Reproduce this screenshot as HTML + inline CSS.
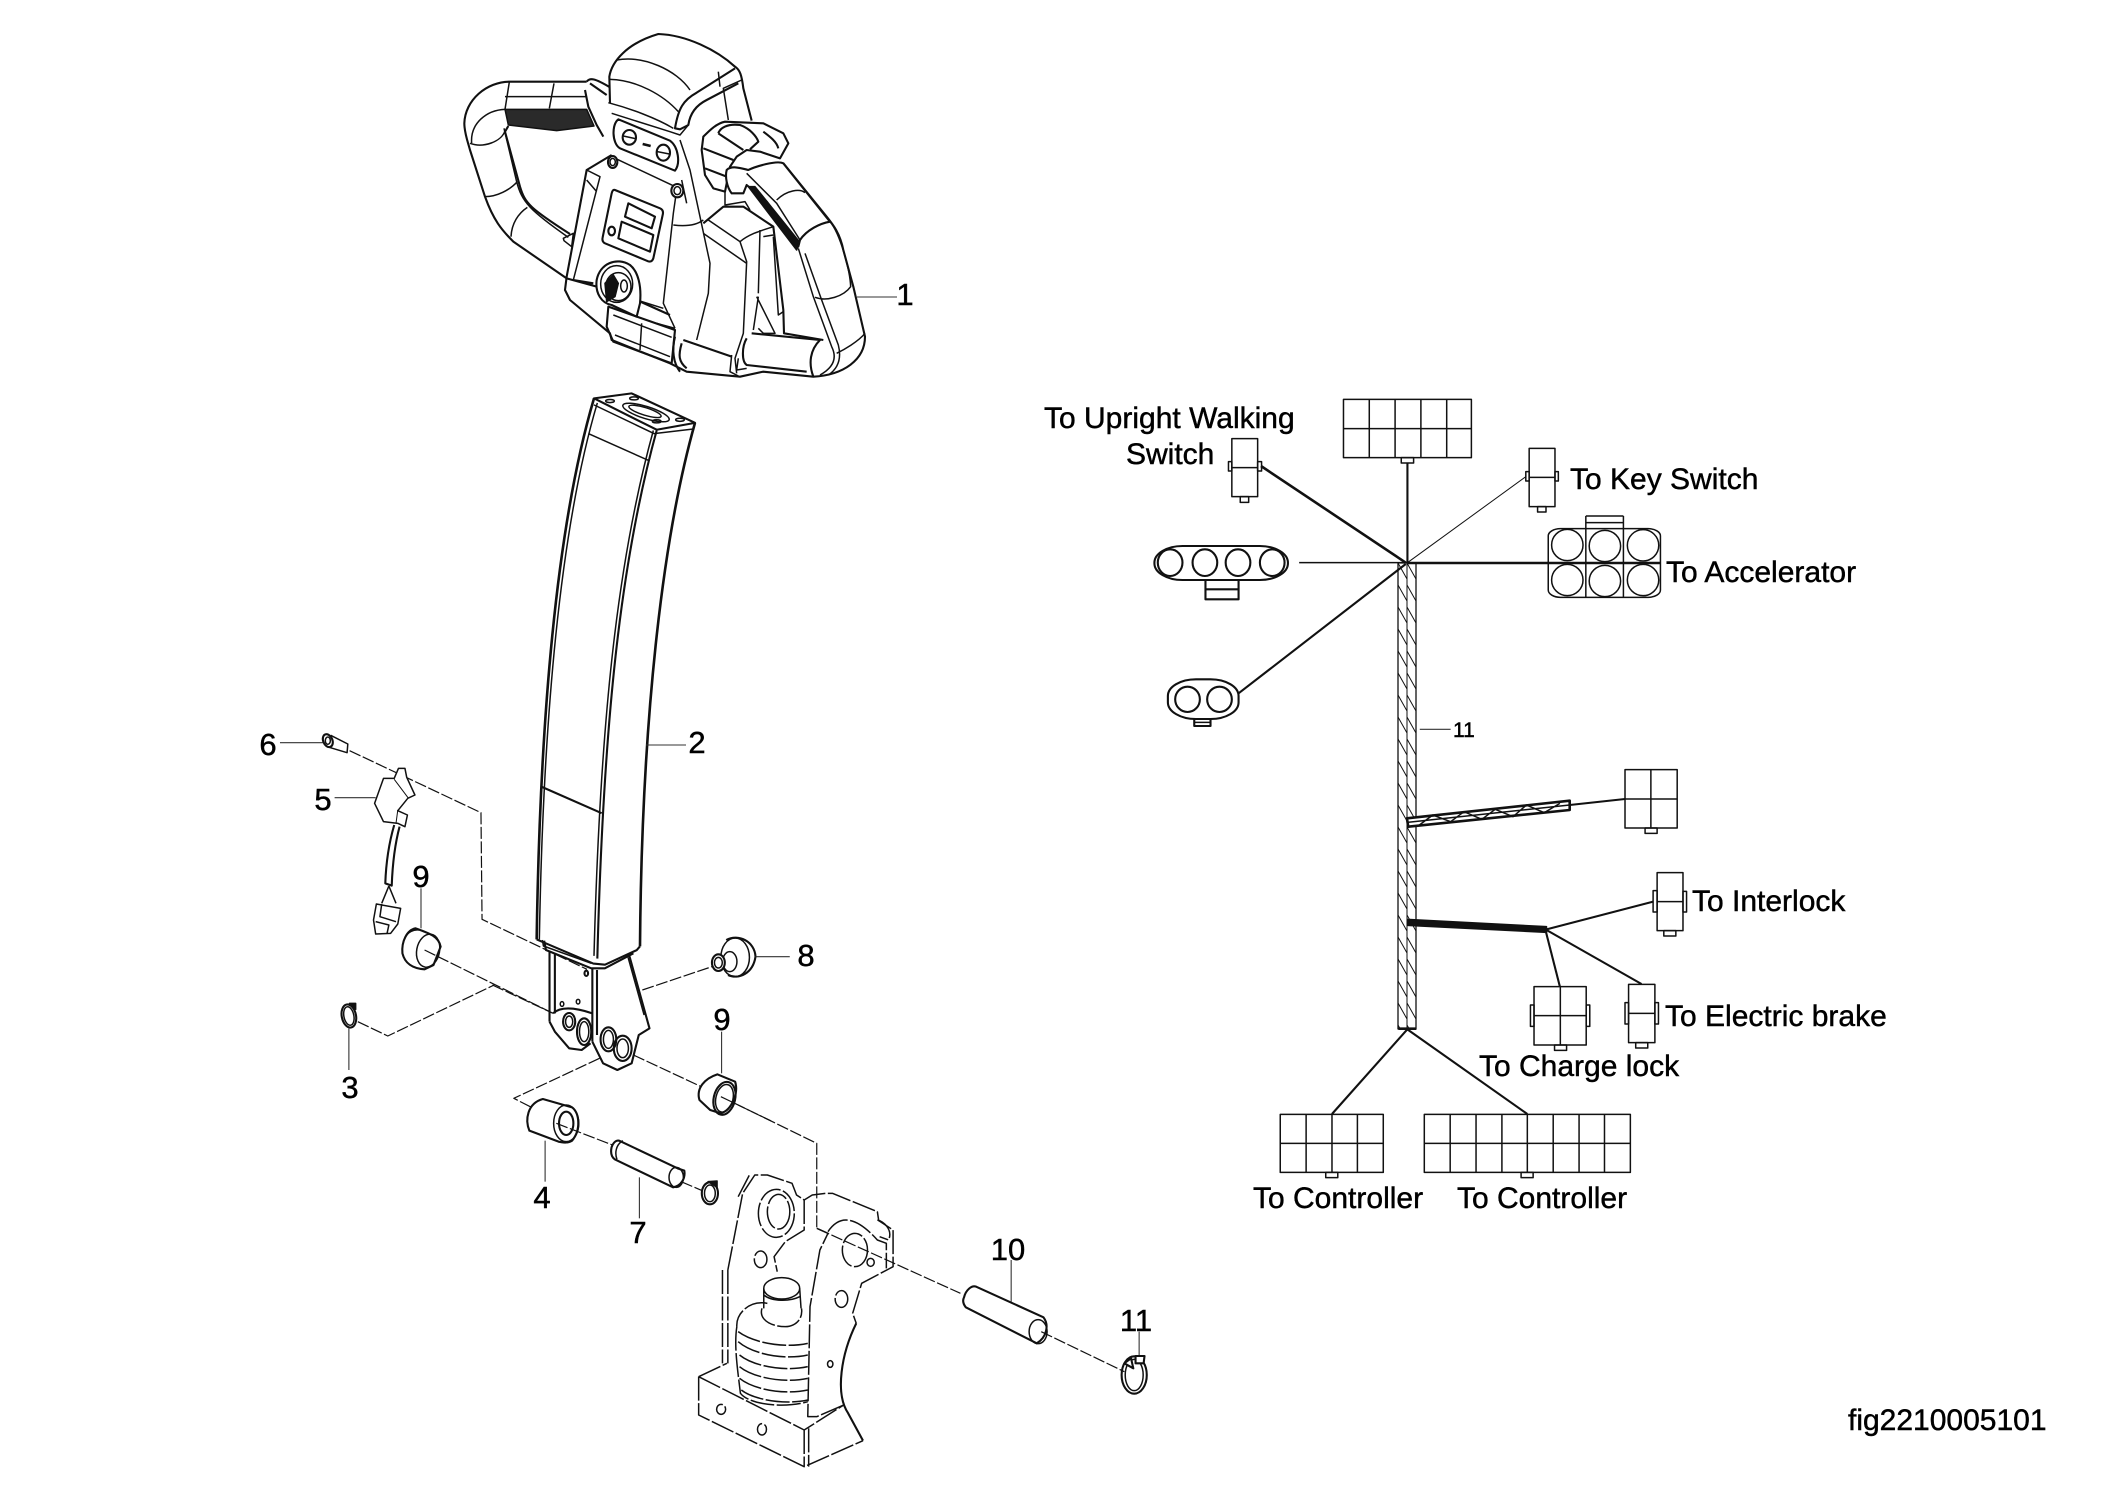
<!DOCTYPE html>
<html lang="en"><head><meta charset="utf-8"><title>fig2210005101</title>
<style>
html,body{margin:0;padding:0;background:#fff}
svg{display:block}
svg *{vector-effect:non-scaling-stroke}
path,line,rect,ellipse,polyline,polygon{fill:none;stroke:#111;stroke-width:1.5;stroke-linejoin:round}
.w{fill:#fff}
.k{fill:#111}
.t{stroke-width:2.6}
.m{stroke-width:2.1}
.n{stroke-width:1}
.g{stroke:#333;stroke-width:1.1}
.d{stroke-width:1.2;stroke-dasharray:12 2.5 }
.f{stroke-width:1.5;stroke-dasharray:24 2.5}
text{font-family:"Liberation Sans",sans-serif;font-size:30px;fill:#000;stroke:#000;stroke-width:.45}
.c{text-anchor:middle;font-size:31px}
</style></head><body>
<svg width="2105" height="1488" viewBox="0 0 2105 1488" xmlns="http://www.w3.org/2000/svg">
<defs>
<pattern id="h" patternUnits="userSpaceOnUse" x="1398" y="563" width="18" height="22">
<path d="M0,0L9,16M9,0L18,16" style="stroke:#111;stroke-width:1;fill:none"/>
</pattern>
</defs>
<rect x="0" y="0" width="2105" height="1488" style="fill:#fff;stroke:none"/>

<!-- Handle head (part 1) -->
<g transform="translate(430,0) scale(.33333)">
<!-- left grip -->
<path class="m" d="M470,245L240,245C170,245 105,300 103,370C103,400 115,430 120,450L165,590C190,660 215,690 250,725L410,835"/>
<path class="m" d="M235,378L225,395L270,560C285,610 300,625 420,702"/>
<path d="M222,385L260,545C275,605 300,632 415,712"/>
<path d="M125,430C120,370 170,330 225,328M120,430C160,445 215,425 225,392"/>
<path class="k" style="fill:#2a2a2a" d="M225,328L470,328L492,378L380,392L235,375Z"/>
<path d="M225,290L470,290M238,246L225,328M372,250L358,325M165,590C200,590 240,570 262,545M243,710C245,670 265,640 292,622"/>
<path d="M400,715L430,700L425,740L402,722Z"/>
<!-- collar -->
<path class="m" d="M470,245C480,232 495,235 540,262M465,270L475,320L500,375L520,410M480,250L530,285"/>
<!-- head -->
<path class="m" d="M540,310L538,230C545,185 590,130 685,102C770,105 860,150 915,200C930,210 935,225 940,265L965,362"/>
<path d="M560,180C640,165 740,210 780,270M540,238C620,240 700,285 745,335M535,308C600,325 680,355 730,385"/>
<path class="m" d="M915,205L800,278C760,300 745,325 735,385L750,388L775,375C780,340 800,315 830,300L925,250"/>
<path d="M935,240L880,265L895,360M865,215L870,260"/>
<!-- eye panel -->
<path class="m" d="M565,358L720,422C745,440 752,490 735,512L570,445C545,430 545,372 565,358Z"/>
<path d="M545,340L720,395L750,405L775,375M750,420L780,510L840,790L835,880L800,1020"/>
<ellipse class="m" cx="598" cy="412" rx="20" ry="22"/><path d="M580,408L616,416"/>
<ellipse class="m" cx="700" cy="458" rx="20" ry="24"/><path d="M682,455L718,462"/>
<path class="t" d="M638,432L662,438"/>
<!-- body -->
<path class="m" d="M545,465L470,510L410,830L405,870L420,900L540,1000L545,1020L720,1090L770,1115L930,1130L1000,1115L1150,1130C1240,1125 1305,1080 1305,1010L1270,860L1240,750C1230,700 1210,675 1190,650L1060,490"/>
<path d="M470,510L510,530L430,840M545,470L740,562M500,575L470,540M740,570L730,640L700,910L735,985M755,540L770,610M730,675C770,680 800,675 820,660M700,925L620,900"/>
<ellipse class="w m" cx="548" cy="486" rx="14" ry="18"/><ellipse cx="548" cy="486" rx="8" ry="11"/>
<ellipse class="w m" cx="742" cy="572" rx="18" ry="20"/><ellipse cx="742" cy="572" rx="10" ry="12"/>
<!-- display plate -->
<path class="m" d="M555,570L690,625Q702,630 698,645L670,775Q665,790 650,782L525,730Q515,725 518,712L545,580Q548,567 555,570Z"/>
<path class="m" d="M595,610L675,650L665,685L585,650ZM575,665L670,705L660,755L565,715Z"/>
<ellipse class="m" cx="545" cy="693" rx="10" ry="13"/>
<!-- key -->
<path class="m" d="M410,835L500,860M430,840L490,850M620,900L720,945"/>
<path class="m w" d="M500,840C510,790 560,770 600,795C625,815 635,860 630,910L620,950L545,915C515,910 495,880 500,840Z"/>
<ellipse cx="560" cy="852" rx="48" ry="55"/>
<ellipse cx="565" cy="860" rx="38" ry="42"/>
<path class="k" d="M525,850L550,825L565,850L555,890L530,905Z"/>
<ellipse cx="582" cy="858" rx="10" ry="18"/>
<!-- bottom strap -->
<path class="m" d="M535,920L735,990L725,1090L550,1025L530,980Z"/>
<path d="M550,945L725,1012M555,1005L720,1070M635,970L630,1050M680,970L735,985"/>
<path class="m" d="M735,1010C725,1050 730,1090 750,1115M755,1030C745,1065 745,1085 770,1105M760,1020L905,1070"/>
<!-- right body -->
<path class="m" d="M820,670L880,620L940,620L1030,680L1060,930L1062,1000L1180,1020"/>
<path d="M835,660L930,725L950,785L940,1000L915,1075L920,1120M820,700L950,790M930,725C960,700 1000,690 1030,680M990,690L985,880M1030,710L1045,945L1060,935M1000,710L1030,705M980,890L1035,1000L1000,1000L985,985M985,890L970,990"/>
<!-- bottom right tube -->
<path class="m" d="M950,1015C935,1040 935,1085 950,1095L1130,1115M965,1000L1170,1020C1140,1050 1135,1090 1150,1130"/>
<path d="M905,1065L900,1115L925,1128M925,1075L920,1110L950,1105"/>
<!-- right trigger -->
<path class="m w" d="M820,410C840,390 860,370 885,365L1000,370L1060,400L1075,430L1050,475L990,455L950,450L920,470L900,500L885,575L850,565L825,525L815,450Z"/>
<path class="m" d="M865,400C870,385 890,370 930,375C960,385 980,410 985,425L960,448M865,400L940,450M1000,395C1020,410 1040,425 1045,445M820,445L910,480M825,505L890,530"/>
<path class="m w" d="M890,510C905,495 935,505 955,510C975,500 1040,480 1060,490L1200,665C1170,670 1130,690 1110,720L1105,740L1010,605L950,555L940,580L905,580C890,560 885,530 890,510Z"/>
<path d="M1040,600C1070,570 1110,565 1125,578M950,520L1040,610L1110,720"/>
<path class="k" d="M955,560L975,560L1108,725L1100,750Z"/>
<!-- right grip -->
<path d="M1110,720C1130,690 1170,670 1200,665C1230,700 1260,810 1262,860C1240,890 1190,905 1155,892M1105,745L1150,890L1205,1040C1220,1070 1215,1100 1170,1125M1125,760L1175,900L1225,1035C1235,1075 1225,1105 1195,1125M1305,1000C1285,1025 1240,1050 1220,1060"/>
<path d="M885,575L885,615L945,605L960,630"/>
</g>
<line class="g" x1="857" y1="297" x2="897" y2="297"/>
<text class="c" x="905" y="305">1</text>

<!-- Column (part 2) -->
<g transform="translate(520,380) scale(.33333,.38265)">
<path class="w m" d="M222,48L335,35L525,112L410,130Z"/>
<path class="t" d="M222,48C130,320 62,760 50,1462"/>
<path d="M232,60C140,330 72,760 58,1462"/>
<path class="m" d="M410,132C300,480 250,900 232,1512"/>
<path d="M400,132C290,480 240,900 222,1505"/>
<path class="t" d="M525,112C425,420 365,900 360,1480"/>
<path d="M222,65L402,140L520,128L525,112M205,140L385,210"/>
<path class="m" d="M62,1062L245,1132"/>
<ellipse cx="378" cy="85" rx="72" ry="16" transform="rotate(15 378 85)"/>
<ellipse cx="375" cy="82" rx="50" ry="10" transform="rotate(15 375 82)"/>
<ellipse cx="270" cy="55" rx="13" ry="4"/><ellipse cx="342" cy="48" rx="13" ry="4"/><ellipse cx="410" cy="108" rx="13" ry="4"/><ellipse cx="480" cy="104" rx="13" ry="4"/>
<path class="m" d="M50,1462L220,1525L255,1528L350,1490L360,1480"/>
</g>
<line class="g" x1="646" y1="745" x2="686" y2="745"/>
<text class="c" x="697" y="753">2</text>

<!-- Fork, small parts -->
<g transform="translate(230,720) scale(.357,.33333)">
<line class="g" x1="140" y1="68" x2="260" y2="68"/>
<ellipse class="m" cx="274" cy="62" rx="13" ry="20" transform="rotate(-20 274 62)"/>
<ellipse cx="274" cy="62" rx="7" ry="11"/>
<path d="M282,46L330,72L328,98L272,80"/>
<path class="d" d="M335,92L703,278L706,598L1000,748"/>
<line class="g" x1="293" y1="233" x2="408" y2="233"/>
<path class="w" d="M430,175L405,250L430,305L470,310L490,320L497,285L470,272L498,235L518,225L495,172L490,145L472,145L460,175Z"/>
<path class="n" d="M460,178L500,235M470,270L465,310"/>
<path class="m" d="M460,315C445,370 437,430 435,490L453,497C455,440 460,380 475,320"/>
<path d="M445,498L425,550M445,498L465,550"/>
<path class="w" d="M410,552L478,565L470,612L450,640L408,642L402,600Z"/>
<path d="M425,552L420,590L465,605M408,605L445,615L440,640"/>
<line class="g" x1="535" y1="505" x2="535" y2="625"/>
<path class="w m" d="M520,625C495,630 480,665 483,700C490,730 510,745 545,748L570,735L590,680C585,650 560,640 520,625Z"/>
<ellipse cx="555" cy="692" rx="32" ry="50" transform="rotate(10 555 692)"/>
<path d="M490,655C497,635 515,628 530,630"/>
<path class="d" d="M545,690L905,880"/>
<path class="d m" d="M735,795L905,880"/>
<path class="d" d="M358,905L442,948L740,795"/>
<ellipse class="m" cx="333" cy="888" rx="20" ry="35" transform="rotate(-10 333 888)"/>
<ellipse cx="333" cy="888" rx="14" ry="28" transform="rotate(-10 333 888)"/>
<path class="k" d="M335,850L352,850L352,868Z"/>
<line class="g" x1="333" y1="925" x2="333" y2="1050"/>
<!-- fork -->
<path class="m" d="M880,662L885,690L1012,745L1050,745L1130,700"/>
<path d="M875,660L878,678L1012,730"/>
<path class="m" d="M895,695L895,905M910,702L910,880M1015,745L1015,965M1028,750L1028,945"/>
<path class="m" d="M1118,705L1175,925L1145,945L1125,1030L1085,1050L1045,1030L1015,965"/>
<path d="M1115,712L1160,885"/>
<path class="m" d="M895,905L910,935L950,985L985,990L1010,970M905,880C925,860 960,860 1015,880"/>
<ellipse class="m" cx="950" cy="905" rx="17" ry="26"/>
<ellipse cx="950" cy="905" rx="10" ry="17"/>
<ellipse class="m" cx="992" cy="935" rx="20" ry="40"/><ellipse cx="992" cy="935" rx="13" ry="30"/>
<ellipse class="m" cx="1060" cy="958" rx="22" ry="36"/><ellipse cx="1060" cy="958" rx="14" ry="27"/>
<ellipse class="m" cx="1100" cy="985" rx="25" ry="38"/><ellipse cx="1100" cy="985" rx="16" ry="28"/>
<ellipse cx="930" cy="852" rx="5" ry="7"/><ellipse cx="975" cy="845" rx="5" ry="7"/><ellipse class="m" cx="998" cy="760" rx="5" ry="8"/>
<path class="d" d="M1155,810L1350,740"/>
<path class="d" d="M1035,1015L795,1135L850,1165"/>
<path class="d" d="M1130,1005L1320,1100"/>
<!-- plug 8 -->
<path class="m" d="M1390,660C1425,640 1470,665 1472,710C1465,760 1425,780 1395,765"/>
<ellipse cx="1415" cy="712" rx="40" ry="58"/>
<ellipse cx="1400" cy="725" rx="20" ry="30"/>
<ellipse class="w m" cx="1368" cy="728" rx="18" ry="25"/>
<ellipse cx="1368" cy="728" rx="11" ry="16"/>
<line class="g" x1="1472" y1="710" x2="1568" y2="710"/>
<!-- bushing 9b -->
<line class="g" x1="1377" y1="935" x2="1377" y2="1060"/>
<path class="w m" d="M1365,1063L1415,1085C1425,1120 1405,1170 1375,1180L1345,1170L1315,1140C1305,1105 1330,1075 1365,1063Z"/>
<ellipse class="m" cx="1385" cy="1135" rx="30" ry="50" transform="rotate(12 1385 1135)"/>
<ellipse cx="1385" cy="1135" rx="24" ry="42" transform="rotate(12 1385 1135)"/>
<path class="d" d="M1375,1130L1520,1205"/>
</g>

<!-- Lower parts -->
<g transform="translate(480,1100) scale(.449,.33333)">
<path class="d" d="M575,15L750,130L750,385L1070,580"/>
<!-- spacer 4 -->
<path class="w m" d="M140,-3L205,22C222,40 225,90 205,122C195,130 185,128 175,125L110,92C100,60 105,10 140,-3Z"/>
<ellipse cx="192" cy="70" rx="28" ry="55"/>
<ellipse class="m" cx="192" cy="70" rx="16" ry="35"/>
<path class="d" d="M170,70L295,135"/>
<line class="g" x1="145" y1="122" x2="145" y2="245"/>
<!-- pin 7 -->
<path class="w m" d="M293,142C296,130 302,120 310,122L440,205L455,212C458,235 448,258 430,262L300,178C292,170 291,155 293,142Z"/>
<ellipse cx="437" cy="232" rx="16" ry="30"/>
<path d="M318,122C302,135 300,160 305,178"/>
<line class="g" x1="355" y1="232" x2="355" y2="355"/>
<path class="d" d="M448,245L495,272"/>
<ellipse class="m" cx="512" cy="280" rx="18" ry="33"/>
<ellipse cx="512" cy="280" rx="12" ry="25"/>
<path class="k" d="M508,245L528,243L528,262Z"/>
<!-- yoke -->
<path class="f" d="M552,510L552,790M552,510L585,280L612,225L640,225L695,250L705,285L722,300L740,285L770,280L785,280L885,335L888,362L920,390L920,500L850,550L830,640L838,670"/>
<path class="f" d="M540,510L540,790M575,290L600,225"/>
<path class="f" d="M722,300L722,390L680,425L655,470L662,515M750,385L775,400L757,450L735,620L730,950L750,950L810,915M775,395C800,345 835,345 885,420L905,430L905,505"/>
<path class="f" d="M885,360C900,365 920,390 910,420L890,410"/>
<ellipse class="f" cx="660" cy="340" rx="40" ry="72"/>
<ellipse class="f" cx="665" cy="335" rx="25" ry="52"/>
<ellipse class="f" cx="625" cy="478" rx="14" ry="25"/>
<ellipse class="f" cx="835" cy="450" rx="28" ry="50"/>
<ellipse class="f" cx="805" cy="597" rx="14" ry="25"/>
<ellipse cx="870" cy="487" rx="8" ry="12"/>
<ellipse cx="780" cy="792" rx="6" ry="10"/>
<path class="m" d="M838,670C805,760 790,880 820,940L853,1022"/>
<!-- cylinder -->
<ellipse cx="672" cy="565" rx="40" ry="32"/>
<path d="M632,565L632,625M712,565L715,625M632,585C650,605 690,605 712,590"/>
<path class="f" d="M628,625C620,660 650,680 680,680C700,680 720,660 716,625"/>
<path class="f" d="M640,610C600,600 570,640 572,680M572,680C565,740 575,820 580,880C600,915 680,925 730,905"/>
<path class="f" d="M575,695C610,730 680,745 730,730"/>
<path class="f" d="M575,725C610,765 680,780 730,765"/>
<path class="f" d="M578,765C610,800 680,815 730,800"/>
<path class="f" d="M578,800C610,835 680,850 730,835"/>
<path class="f" d="M578,835C610,870 680,885 730,870"/>
<path class="f" d="M582,870C610,900 680,915 730,900"/>
<!-- base -->
<path class="f" d="M487,830L550,790M487,830L487,945L722,1100L853,1022M487,830L722,990L810,915M722,990L722,1100M732,985L732,1100"/>
<ellipse class="f" cx="537" cy="928" rx="10" ry="15"/>
<ellipse class="f" cx="628" cy="988" rx="10" ry="17"/>
<!-- pin 10 -->
<path class="w m" d="M1078,592C1082,570 1095,555 1105,560L1255,652C1268,675 1262,712 1240,730L1082,622C1075,610 1075,600 1078,592Z"/>
<ellipse cx="1243" cy="695" rx="20" ry="36"/>
<line class="g" x1="1183" y1="480" x2="1183" y2="605"/>
<path class="d" d="M1250,695L1435,815"/>
<line class="g" x1="1468" y1="695" x2="1468" y2="770"/>
<ellipse class="m" cx="1457" cy="825" rx="28" ry="56"/>
<ellipse cx="1457" cy="825" rx="20" ry="47"/>
<path class="w m" d="M1435,790L1450,775L1455,805ZM1460,768L1480,768L1478,790L1460,790Z"/>
</g>

<!-- Harness upper -->
<g transform="translate(1031,380) scale(.561,.33333)">
<rect x="557" y="58" width="228" height="175"/>
<path d="M603,58V233M649,58V233M695,58V233M741,58V233M557,146H785"/>
<rect x="660" y="233" width="22" height="16"/>
<line class="m" x1="671" y1="249" x2="671" y2="548"/>
<rect x="358" y="176" width="46" height="174"/><path d="M358,263H404"/>
<rect x="352" y="245" width="6" height="28"/><rect x="404" y="245" width="7" height="28"/>
<rect x="373" y="350" width="15" height="17"/>
<line class="t" x1="410" y1="258" x2="668" y2="548"/>
<rect x="888" y="205" width="46" height="175"/><path d="M888,292H934"/>
<rect x="882" y="275" width="6" height="28"/><rect x="934" y="275" width="6" height="28"/>
<rect x="903" y="380" width="15" height="16"/>
<line class="n" x1="882" y1="290" x2="671" y2="548"/>
<rect x="922" y="446" width="200" height="206" rx="22" ry="22"/>
<path d="M989,408V652M1056,408V652M989,408H1056M989,428H1056"/>
<line class="t" x1="672" y1="549" x2="1122" y2="549"/>
<ellipse cx="956" cy="495" rx="28" ry="47"/><ellipse cx="1023" cy="498" rx="28" ry="47"/><ellipse cx="1091" cy="496" rx="28" ry="47"/>
<ellipse cx="956" cy="600" rx="28" ry="47"/><ellipse cx="1023" cy="603" rx="28" ry="47"/><ellipse cx="1091" cy="600" rx="28" ry="47"/>
<rect class="m" x="220" y="498" width="238" height="102" rx="50" ry="50"/>
<ellipse class="m" cx="248" cy="548" rx="22" ry="40"/><ellipse class="m" cx="310" cy="548" rx="22" ry="40"/><ellipse class="m" cx="369" cy="548" rx="22" ry="40"/><ellipse class="m" cx="430" cy="548" rx="22" ry="40"/>
<rect class="m" x="311" y="600" width="59" height="58"/><line class="m" x1="311" y1="628" x2="370" y2="628"/>
<line x1="478" y1="548" x2="671" y2="548"/>
<rect class="m" x="244" y="898" width="126" height="119" rx="50" ry="50"/>
<ellipse class="m" cx="279" cy="958" rx="22" ry="38"/><ellipse class="m" cx="336" cy="958" rx="22" ry="38"/>
<rect class="m" x="291" y="1017" width="29" height="21"/><line x1="291" y1="1027" x2="320" y2="1027"/>
<line class="m" x1="370" y1="940" x2="668" y2="552"/>
<line class="g" x1="693" y1="1048" x2="748" y2="1048"/>
</g>

<!-- Trunk -->
<rect x="1398" y="563" width="18" height="466" style="fill:url(#h);stroke:#111;stroke-width:1.3"/>
<line x1="1407" y1="563" x2="1407" y2="1029" style="stroke-width:1"/>

<!-- Harness lower -->
<g transform="translate(1241,760) scale(.446,.33333)">
<rect x="861" y="29" width="117" height="175"/><path d="M919,29V204M861,117H978"/>
<rect x="906" y="204" width="27" height="16"/>
<line class="m" x1="737" y1="135" x2="861" y2="117"/>
<path class="t w" d="M372,175L737,122L737,150L375,200Z"/>
<path d="M373,187L737,135M400,195L430,165L470,185L500,155L540,178L570,148L610,170L640,135L680,158L715,130"/>
<rect x="933" y="338" width="58" height="174"/><path d="M933,425H991"/>
<rect x="924" y="392" width="9" height="64"/><rect x="991" y="394" width="8" height="62"/>
<rect x="948" y="512" width="27" height="16"/>
<line class="m" x1="685" y1="508" x2="924" y2="425"/>
<path class="k" d="M373,478L685,500L685,517L373,496Z"/>
<line class="m" x1="683" y1="512" x2="715" y2="680"/>
<line class="m" x1="685" y1="510" x2="898" y2="672"/>
<rect x="657" y="680" width="117" height="175"/><path d="M716,680V855M657,767H774"/>
<rect x="649" y="735" width="8" height="64"/><rect x="774" y="735" width="8" height="64"/>
<rect x="703" y="855" width="27" height="16"/>
<rect x="869" y="673" width="59" height="175"/><path d="M869,760H928"/>
<rect x="861" y="728" width="8" height="64"/><rect x="928" y="728" width="8" height="64"/>
<rect x="885" y="848" width="27" height="16"/>
<line class="t" x1="353" y1="806" x2="393" y2="806"/>
<line class="m" x1="373" y1="808" x2="204" y2="1062"/>
<line class="m" x1="373" y1="808" x2="642" y2="1062"/>
<rect x="88" y="1063" width="231" height="174"/><path d="M146,1063V1237M204,1063V1237M261,1063V1237M88,1150H319"/>
<rect x="190" y="1237" width="27" height="16"/>
<rect x="411" y="1063" width="462" height="174"/><path d="M469,1063V1237M527,1063V1237M585,1063V1237M642,1063V1237M700,1063V1237M758,1063V1237M815,1063V1237M411,1150H873"/>
<rect x="628" y="1237" width="27" height="16"/>
</g>

<!-- Labels -->
<text class="c" x="268" y="755">6</text>
<text class="c" x="323" y="810">5</text>
<text class="c" x="421" y="887">9</text>
<text class="c" x="350" y="1098">3</text>
<text class="c" x="722" y="1030">9</text>
<text class="c" x="806" y="966">8</text>
<text class="c" x="542" y="1208">4</text>
<text class="c" x="638" y="1243">7</text>
<text class="c" x="1008" y="1260">10</text>
<text class="c" x="1136" y="1331">11</text>
<text x="1453" y="737" style="font-size:21px">11</text>
<text x="1044" y="428">To Upright Walking</text>
<text x="1126" y="464">Switch</text>
<text x="1570" y="489">To Key Switch</text>
<text x="1666" y="582">To Accelerator</text>
<text x="1692" y="911">To Interlock</text>
<text x="1665" y="1026">To Electric brake</text>
<text x="1479" y="1076">To Charge lock</text>
<text x="1253" y="1208">To Controller</text>
<text x="1457" y="1208">To Controller</text>
<text x="1848" y="1430">fig2210005101</text>
</svg>
</body></html>
